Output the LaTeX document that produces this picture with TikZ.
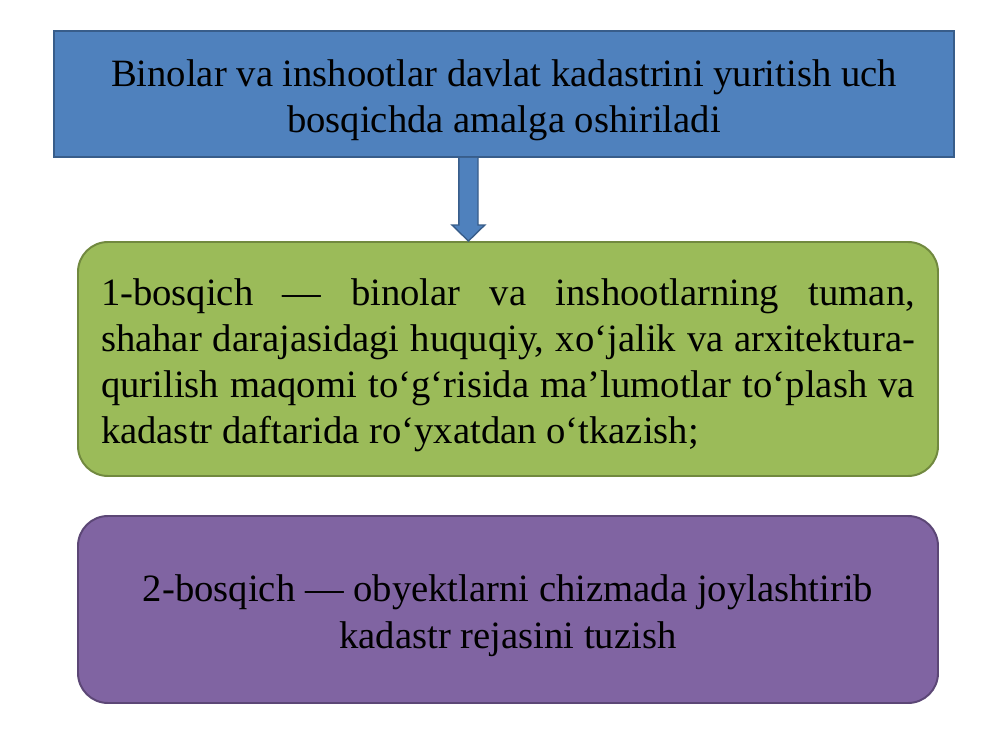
\documentclass[tikz,border=0pt]{standalone}
\usepackage{fontspec}
\setmainfont{Liberation Serif}
\usetikzlibrary{calc, positioning}

\definecolor{stageblue}{HTML}{4F81BD}
\definecolor{stageblueline}{HTML}{385D8A}
\definecolor{stagegreen}{HTML}{9BBB59}
\definecolor{stagegreenline}{HTML}{71893F}
\definecolor{stagepurple}{HTML}{8064A2}
\definecolor{stagepurpleline}{HTML}{5C4776}

% tall strut on the first line, to set the text a little lower in its box
\newcommand{\stagestrut}{\rule{0pt}{28pt}}

\tikzset{
    stagetext/.style={font=\fontsize{27.5}{32.9}\selectfont, inner sep=0pt},
    titlebox/.style={stagetext, draw=stageblueline, fill=stageblue, line width=1.4pt,
        minimum width=22.5cm, minimum height=3.15cm, align=center},
    stagebox/.style={stagetext, line width=1.4pt, rounded corners=0.75cm,
        minimum width=21.5cm, align=center},
    arrowbox/.style={draw=stageblueline, fill=stageblue, line width=1pt}
}

\begin{document}
\begin{tikzpicture}
                \useasboundingbox (0,0) rectangle (25,18.75);
                % title and the two stages
                \node[titlebox] (title) at (12.6,16.4)
                    {\stagestrut Binolar va inshootlar davlat kadastrini yuritish uch\\bosqichda amalga oshiriladi};
                \node[stagebox, draw=stagegreenline, fill=stagegreen, minimum height=5.85cm,
                    text width=20.35cm, align=justify] (first) at (12.7,9.775)
                    {\stagestrut 1-bosqich --- binolar va inshootlarning tuman,\linebreak
                    shahar darajasidagi huquqiy, xo‘jalik va arxitektura-\linebreak
                    qurilish maqomi to‘g‘risida ma’lumotlar to‘plash va\linebreak
                    kadastr daftarida ro‘yxatdan o‘tkazish;};
                \node[stagebox, draw=stagepurpleline, fill=stagepurple, minimum height=4.675cm]
                    (second) at (12.7,3.5125)
                    {\stagestrut 2-bosqich --- obyektlarni chizmada joylashtirib\\kadastr rejasini tuzish};
                % block arrow from the title down to the first stage
                \coordinate (arrtop) at ($(title.south)+(-0.89,0)$);
                \coordinate (arrtip) at (arrtop |- first.north);
                \draw[arrowbox] ($(arrtop)+(-0.24,0)$) -- ($(arrtip)+(-0.24,0.4)$)
                    -- ($(arrtip)+(-0.41,0.4)$) -- (arrtip) -- ($(arrtip)+(0.41,0.4)$)
                    -- ($(arrtip)+(0.24,0.4)$) -- ($(arrtop)+(0.24,0)$);
            \end{tikzpicture}
\end{document}
